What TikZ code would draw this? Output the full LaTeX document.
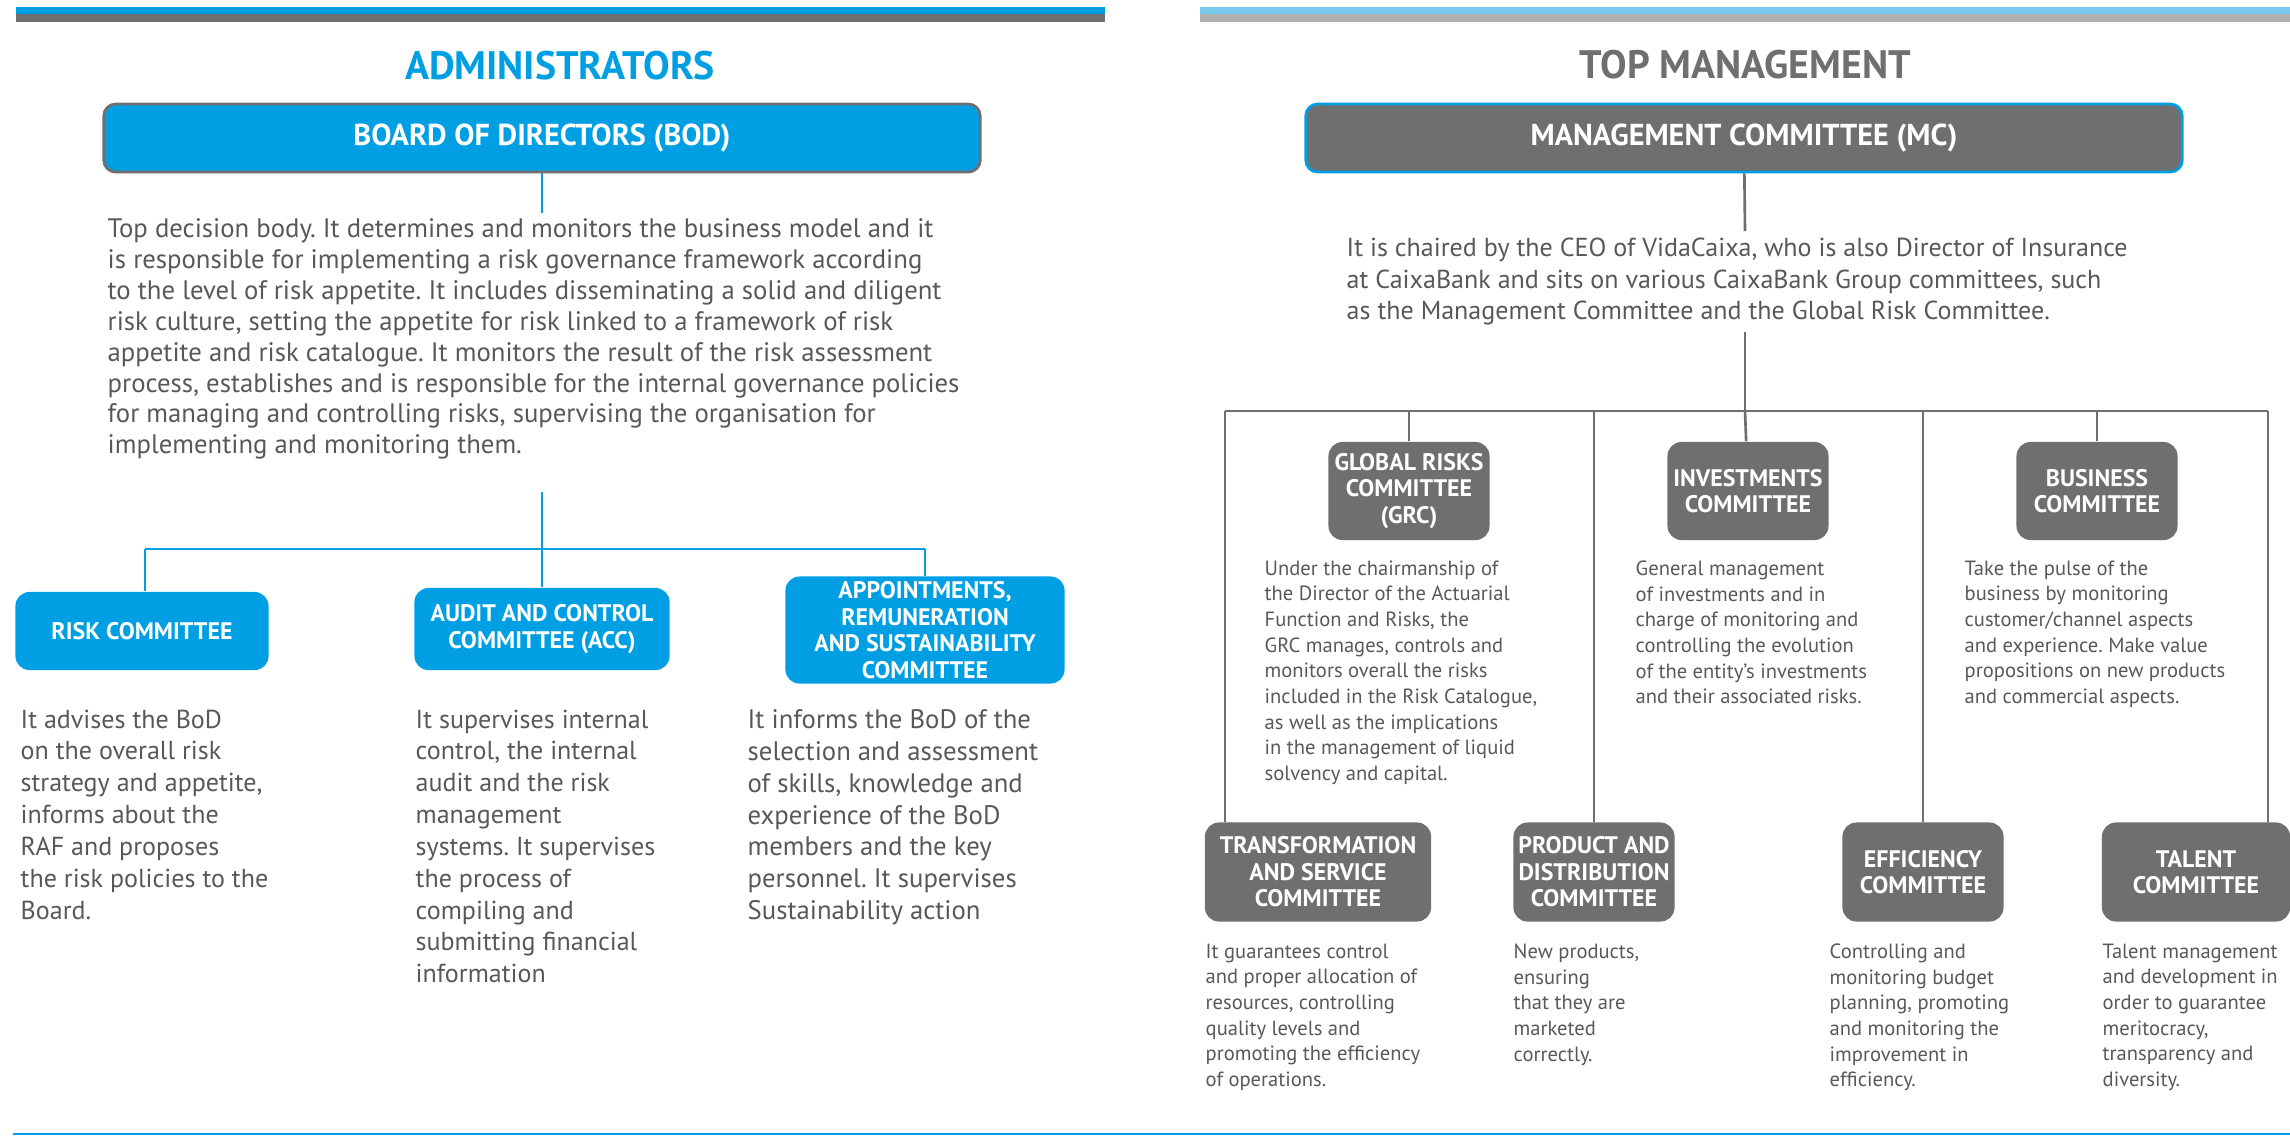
\documentclass[tikz,border=0pt]{standalone}
\usepackage{fontspec}
\setmainfont{PT Sans}
\frenchspacing
\usetikzlibrary{positioning}
\definecolor{mainBlue}{RGB}{0,159,227}
\definecolor{lightBlue}{RGB}{116,201,236}
\definecolor{boxGray}{RGB}{111,111,111}
\definecolor{lightGray}{RGB}{176,176,176}
\definecolor{textGray}{RGB}{88,88,88}

\begin{document}
\begin{tikzpicture}[x=0.01cm, y=-0.01cm,
    headline/.style={font=\bfseries\fontsize{11.3}{13}\selectfont},
    topbox/.style={rounded corners=0.12cm, inner sep=0, line width=0.8pt, minimum width=8.76cm, minimum height=0.68cm, text=white, font=\bfseries\fontsize{8.6}{10}\selectfont},
    adminbox/.style={fill=mainBlue, rounded corners=0.14cm, align=center, inner sep=0, text=white, font=\bfseries\fontsize{6.8}{7.55}\selectfont},
    mgmtbox/.style={adminbox, fill=boxGray, minimum width=1.61cm, minimum height=0.98cm},
    desc/.style={anchor=north west, align=left, inner sep=0, text=textGray, font=\fontsize{7.4}{9.05}\selectfont},
    smalldesc/.style={desc, font=\fontsize{5.85}{7.3}\selectfont},
    adminline/.style={mainBlue, line width=0.75pt},
    mgmtline/.style={boxGray, line width=0.75pt}]
    \useasboundingbox (0,0) rectangle (2290,1135);

    % Bars
    \fill[mainBlue] (16,7) rectangle (1105,14);
    \fill[boxGray] (16,14) rectangle (1105,22);
    \fill[lightBlue] (1200,7) rectangle (2290,14);
    \fill[lightGray] (1200,14) rectangle (2290,22);
    \draw[mainBlue, line width=0.45pt] (13,1134) -- (2290,1134);

    % Administrators
    \node[headline, text=mainBlue] (admin) at (560,66) {ADMINISTRATORS};
    \node[topbox, fill=mainBlue, draw=boxGray] (bod) at (542,138) {BOARD OF DIRECTORS (BOD)};
    \node[desc, font=\fontsize{7.6}{8.78}\selectfont] (bodtext) at (107,218) {Top decision body. It determines and monitors the business model and it\\
        is responsible for implementing a risk governance framework according\\
        to the level of risk appetite. It includes disseminating a solid and diligent\\
        risk culture, setting the appetite for risk linked to a framework of risk\\
        appetite and risk catalogue. It monitors the result of the risk assessment\\
        process, establishes and is responsible for the internal governance policies\\
        for managing and controlling risks, supervising the organisation for\\
        implementing and monitoring them.};

    \node[adminbox, minimum width=2.53cm, minimum height=0.78cm] (risk) at (142,631) {RISK COMMITTEE};
    \node[adminbox, minimum width=2.55cm, minimum height=0.82cm] (audit) at (542,629) {AUDIT AND CONTROL\\COMMITTEE (ACC)};
    \node[adminbox, minimum width=2.79cm, minimum height=1.07cm] (appt) at (925,630) {APPOINTMENTS,\\REMUNERATION\\AND SUSTAINABILITY\\COMMITTEE};

    \node[desc] (risktext) at (20,709) {It advises the BoD\\on the overall risk\\strategy and appetite,\\informs about the\\RAF and proposes\\the risk policies to the\\Board.};
    \node[desc] (audittext) at (415,709) {It supervises internal\\control, the internal\\audit and the risk\\management\\systems. It supervises\\the process of\\compiling and\\submitting financial\\information};
    \node[desc, font=\fontsize{7.6}{9.05}\selectfont] (appttext) at (747,709) {It informs the BoD of the\\selection and assessment\\of skills, knowledge and\\experience of the BoD\\members and the key\\personnel. It supervises\\Sustainability action};

    % Lines
    \coordinate (bodend) at (542,213);
    \coordinate (bodstart) at (542,492);
    \coordinate (ll) at (145,549);
    \coordinate (lm) at (542,549);
    \coordinate (lr) at (925,549);
    \draw[adminline] (bod) -- (bodend);
    \draw[adminline] (bodstart) -- (audit);
    \draw[adminline] (ll) -- (lr);
    \draw[adminline] (ll) -- (ll |- risk.north);
    \draw[adminline] (lr) -- (appt);

    % Top management
    \node[headline, text=boxGray] (top) at (1745,65) {TOP MANAGEMENT};
    \node[topbox, fill=boxGray, draw=mainBlue] (mc) at (1744,138) {MANAGEMENT COMMITTEE (MC)};
    \node[desc] (mctext) at (1346,237) {It is chaired by the CEO of VidaCaixa, who is also Director of Insurance\\
        at CaixaBank and sits on various CaixaBank Group committees, such\\
        as the Management Committee and the Global Risk Committee.};

    \node[mgmtbox] (grc) at (1409,491) {GLOBAL RISKS\\COMMITTEE\\(GRC)};
    \node[mgmtbox] (inv) at (1748,491) {INVESTMENTS\\COMMITTEE};
    \node[mgmtbox] (bus) at (2097,491) {BUSINESS\\COMMITTEE};
    \node[mgmtbox, minimum width=2.26cm, minimum height=0.99cm] (trans) at (1318,872) {TRANSFORMATION\\AND SERVICE\\COMMITTEE};
    \node[mgmtbox, minimum height=0.99cm] (prod) at (1594,872) {PRODUCT AND\\DISTRIBUTION\\COMMITTEE};
    \node[mgmtbox, minimum height=0.99cm] (eff) at (1923,872) {EFFICIENCY\\COMMITTEE};
    \node[mgmtbox, minimum width=1.88cm, minimum height=0.99cm] (talent) at (2196,872) {TALENT\\COMMITTEE};

    \node[smalldesc] (grctext) at (1264,560) {Under the chairmanship of\\the Director of the Actuarial\\Function and Risks, the\\GRC manages, controls and\\monitors overall the risks\\included in the Risk Catalogue,\\as well as the implications\\in the management of liquid\\solvency and capital.};
    \node[smalldesc] (invtext) at (1635,560) {General management\\of investments and in\\charge of monitoring and\\controlling the evolution\\of the entity's investments\\and their associated risks.};
    \node[smalldesc] (bustext) at (1964,560) {Take the pulse of the\\business by monitoring\\customer/channel aspects\\and experience. Make value\\propositions on new products\\and commercial aspects.};
    \node[smalldesc] (transtext) at (1205,943) {It guarantees control\\and proper allocation of\\resources, controlling\\quality levels and\\promoting the efficiency\\of operations.};
    \node[smalldesc] (prodtext) at (1513,943) {New products,\\ensuring\\that they are\\marketed\\correctly.};
    \node[smalldesc] (efftext) at (1829,943) {Controlling and\\monitoring budget\\planning, promoting\\and monitoring the\\improvement in\\efficiency.};
    \node[smalldesc] (talenttext) at (2102,943) {Talent management\\and development in\\order to guarantee\\meritocracy,\\transparency and\\diversity.};

    % Lines
    \coordinate (mcend) at (1745,231);
    \coordinate (mcstart) at (1745,332);
    \coordinate (rl) at (1225,411);
    \coordinate (rm) at (1745,411);
    \coordinate (rr) at (2268,411);
    \draw[mgmtline] (mc) -- (mcend);
    \draw[mgmtline] (mcstart) -- (rm);
    \draw[mgmtline] (rl) -- (rr);
    \draw[mgmtline] (grc.north |- rl) -- (grc);
    \draw[mgmtline] (rm) -- (inv);
    \draw[mgmtline] (bus.north |- rl) -- (bus);
    \draw[mgmtline] (rl) -- (rl |- trans.north);
    \draw[mgmtline] (prod.north |- rl) -- (prod);
    \draw[mgmtline] (eff.north |- rl) -- (eff);
    \draw[mgmtline] (rr) -- (rr |- talent.north);
\end{tikzpicture}
\end{document}
